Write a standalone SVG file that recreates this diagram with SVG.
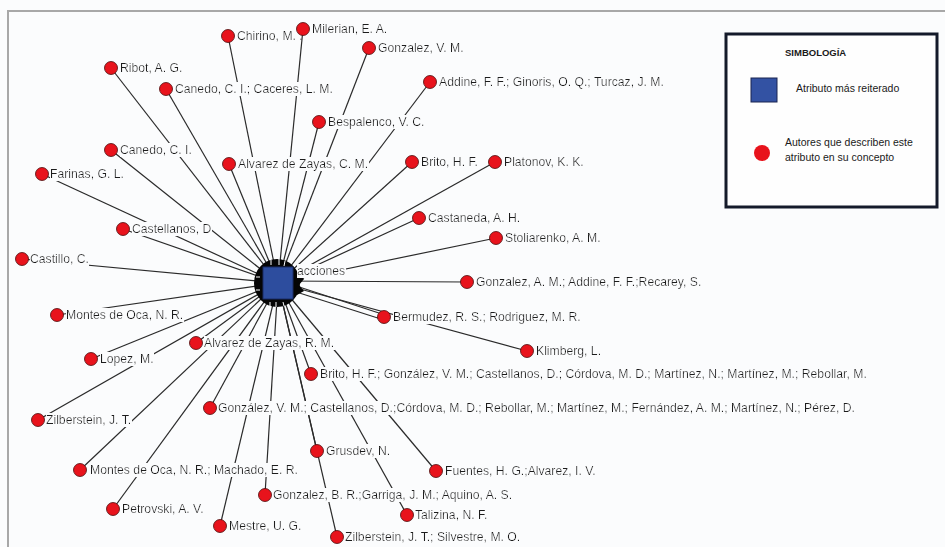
<svg xmlns="http://www.w3.org/2000/svg" width="945" height="547" viewBox="0 0 945 547">
<defs>
<filter id="lblbg" x="0" y="0" width="1" height="1">
<feFlood flood-color="#fbfcfd"/>
<feComposite in="SourceGraphic"/>
</filter>
<style>
.bg{fill:#fbfcfd}
.frame{fill:none;stroke:#a8a8a8;stroke-width:2}
.edge{stroke:#2a2a2a;stroke-width:1.2;fill:none}
.dot{fill:#e8131c;stroke:#4a0a0a;stroke-width:0.8}
.lbl{font-family:"Liberation Sans",Arial,sans-serif;font-size:12.2px;fill:#1c1c1c;filter:url(#lblbg)}
.hub{fill:#2d4d9e;stroke:#1a2d66;stroke-width:1}
.leg{font-family:"Liberation Sans",Arial,sans-serif;font-size:10.5px;fill:#1a1a1a}
.legt{font-family:"Liberation Sans",Arial,sans-serif;font-size:9.5px;font-weight:bold;fill:#1a1a1a}
</style>
</defs>
<rect class="bg" x="0" y="0" width="945" height="547"/>
<path class="frame" d="M945 11 H8 V547"/>

<g id="connectors">
<line class="edge" x1="228" y1="36" x2="278" y2="283"/>
<line class="edge" x1="369" y1="48" x2="278" y2="283"/>
<line class="edge" x1="430" y1="82" x2="278" y2="283"/>
<line class="edge" x1="111" y1="68" x2="278" y2="283"/>
<line class="edge" x1="166" y1="89" x2="278" y2="283"/>
<line class="edge" x1="319" y1="122" x2="278" y2="283"/>
<line class="edge" x1="111" y1="150" x2="278" y2="283"/>
<line class="edge" x1="229" y1="164" x2="278" y2="283"/>
<line class="edge" x1="412" y1="162" x2="278" y2="283"/>
<line class="edge" x1="495" y1="162" x2="278" y2="283"/>
<line class="edge" x1="42" y1="174" x2="278" y2="283"/>
<line class="edge" x1="419" y1="218" x2="278" y2="283"/>
<line class="edge" x1="123" y1="229" x2="278" y2="283"/>
<line class="edge" x1="496" y1="238" x2="278" y2="283"/>
<line class="edge" x1="22" y1="259" x2="278" y2="283"/>
<line class="edge" x1="467" y1="282" x2="278" y2="281"/>
<line class="edge" x1="57" y1="315" x2="278" y2="283"/>
<line class="edge" x1="382" y1="314" x2="290" y2="284"/>
<line class="edge" x1="384" y1="320" x2="290" y2="290"/>
<line class="edge" x1="196" y1="343" x2="278" y2="283"/>
<line class="edge" x1="527" y1="351" x2="278" y2="283"/>
<line class="edge" x1="91" y1="359" x2="278" y2="283"/>
<line class="edge" x1="311" y1="374" x2="278" y2="283"/>
<line class="edge" x1="210" y1="408" x2="278" y2="283"/>
<line class="edge" x1="38" y1="420" x2="278" y2="283"/>
<line class="edge" x1="317" y1="451" x2="278" y2="283"/>
<line class="edge" x1="80" y1="470" x2="278" y2="283"/>
<line class="edge" x1="436" y1="471" x2="278" y2="283"/>
<line class="edge" x1="265" y1="495" x2="278" y2="283"/>
<line class="edge" x1="113" y1="509" x2="278" y2="283"/>
<line class="edge" x1="407" y1="515" x2="278" y2="283"/>
<line class="edge" x1="220" y1="526" x2="278" y2="283"/>
<line class="edge" x1="337" y1="537" x2="278" y2="283"/>
</g>

<g id="n-chirino"><circle class="dot" cx="228" cy="36" r="6.5"/><text class="lbl" x="237" y="40">Chirino, M. .</text></g>
<g id="n-milerian"><line class="edge" x1="303" y1="29" x2="278" y2="283"/><circle class="dot" cx="303" cy="29" r="6.5"/><text class="lbl" x="312" y="33">Milerian, E. A.</text></g>
<g id="n-gonzalez-vm"><circle class="dot" cx="369" cy="48" r="6.5"/><text class="lbl" x="378" y="52">Gonzalez, V. M.</text></g>
<g id="n-addine"><circle class="dot" cx="430" cy="82" r="6.5"/><text class="lbl" x="439" y="86">Addine, F. F.; Ginoris, O. Q.; Turcaz, J. M.</text></g>
<g id="n-ribot"><circle class="dot" cx="111" cy="68" r="6.5"/><text class="lbl" x="120" y="72">Ribot, A. G.</text></g>
<g id="n-canedo-caceres"><circle class="dot" cx="166" cy="89" r="6.5"/><text class="lbl" x="175" y="93">Canedo, C. I.; Caceres, L. M.</text></g>
<g id="n-bespalenco"><circle class="dot" cx="319" cy="122" r="6.5"/><text class="lbl" x="328" y="126">Bespalenco, V. C.</text></g>
<g id="n-canedo"><circle class="dot" cx="111" cy="150" r="6.5"/><text class="lbl" x="120" y="154">Canedo, C. I.</text></g>
<g id="n-alvarez-cm"><circle class="dot" cx="229" cy="164" r="6.5"/><text class="lbl" x="238" y="168">Alvarez de Zayas, C. M.</text></g>
<g id="n-brito"><circle class="dot" cx="412" cy="162" r="6.5"/><text class="lbl" x="421" y="166">Brito, H. F.</text></g>
<g id="n-platonov"><circle class="dot" cx="495" cy="162" r="6.5"/><text class="lbl" x="504" y="166">Platonov, K. K.</text></g>
<g id="n-farinas"><circle class="dot" cx="42" cy="174" r="6.5"/><text class="lbl" x="50" y="178">Farinas, G. L.</text></g>
<g id="n-castaneda"><circle class="dot" cx="419" cy="218" r="6.5"/><text class="lbl" x="428" y="222">Castaneda, A. H.</text></g>
<g id="n-castellanos"><circle class="dot" cx="123" cy="229" r="6.5"/><text class="lbl" x="132" y="233">Castellanos, D</text></g>
<g id="n-stoliarenko"><circle class="dot" cx="496" cy="238" r="6.5"/><text class="lbl" x="505" y="242">Stoliarenko, A. M.</text></g>
<g id="n-castillo"><circle class="dot" cx="22" cy="259" r="6.5"/><text class="lbl" x="30" y="263">Castillo, C.</text></g>
<g id="n-gonzalez-am"><circle class="dot" cx="467" cy="282" r="6.5"/><text class="lbl" x="476" y="286">Gonzalez, A. M.; Addine, F. F.;Recarey, S.</text></g>
<g id="n-montes"><circle class="dot" cx="57" cy="315" r="6.5"/><text class="lbl" x="66" y="319">Montes de Oca, N. R.</text></g>
<g id="n-bermudez"><circle class="dot" cx="384" cy="317" r="6.5"/><text class="lbl" x="393" y="321">Bermudez, R. S.; Rodriguez, M. R.</text></g>
<g id="n-alvarez-rm"><circle class="dot" cx="196" cy="343" r="6.5"/><text class="lbl" x="204" y="347">Alvarez de Zayas, R. M.</text></g>
<g id="n-klimberg"><circle class="dot" cx="527" cy="351" r="6.5"/><text class="lbl" x="536" y="355">Klimberg, L.</text></g>
<g id="n-lopez"><circle class="dot" cx="91" cy="359" r="6.5"/><text class="lbl" x="100" y="363">Lopez, M.</text></g>
<g id="n-brito-multi"><circle class="dot" cx="311" cy="374" r="6.5"/><text class="lbl" x="320" y="378">Brito, H. F.; González, V. M.; Castellanos, D.; Córdova, M. D.; Martínez, N.; Martínez, M.; Rebollar, M.</text></g>
<g id="n-gonzalez-vm-multi"><circle class="dot" cx="210" cy="408" r="6.5"/><text class="lbl" x="218" y="412">González, V. M.; Castellanos, D.;Córdova, M. D.; Rebollar, M.; Martínez, M.; Fernández, A. M.; Martínez, N.; Pérez, D.</text></g>
<g id="n-zilberstein"><circle class="dot" cx="38" cy="420" r="6.5"/><text class="lbl" x="46" y="424">Zilberstein, J. T.</text></g>
<g id="n-grusdev"><circle class="dot" cx="317" cy="451" r="6.5"/><text class="lbl" x="326" y="455">Grusdev, N.</text></g>
<g id="n-montes-machado"><circle class="dot" cx="80" cy="470" r="6.5"/><text class="lbl" x="90" y="474">Montes de Oca, N. R.; Machado, E. R.</text></g>
<g id="n-fuentes"><circle class="dot" cx="436" cy="471" r="6.5"/><text class="lbl" x="445" y="475">Fuentes, H. G.;Alvarez, I. V.</text></g>
<g id="n-gonzalez-br"><circle class="dot" cx="265" cy="495" r="6.5"/><text class="lbl" x="273" y="499">Gonzalez, B. R.;Garriga, J. M.; Aquino, A. S.</text></g>
<g id="n-petrovski"><circle class="dot" cx="113" cy="509" r="6.5"/><text class="lbl" x="122" y="513">Petrovski, A. V.</text></g>
<g id="n-talizina"><circle class="dot" cx="407" cy="515" r="6.5"/><text class="lbl" x="415" y="519">Talizina, N. F.</text></g>
<g id="n-mestre"><circle class="dot" cx="220" cy="526" r="6.5"/><text class="lbl" x="229" y="530">Mestre, U. G.</text></g>
<g id="n-zilberstein-silvestre"><circle class="dot" cx="337" cy="537" r="6.5"/><text class="lbl" x="345" y="541">Zilberstein, J. T.; Silvestre, M. O.</text></g>

<g id="n-hub">
<ellipse cx="277" cy="283" rx="23" ry="24" fill="#050505"/>
<polygon points="292,276 300,273 304,279 299,285 304,291 297,295 292,292" fill="#050505"/>
<g stroke="#fbfcfd" stroke-width="1">
<line x1="271" y1="260" x2="271" y2="265"/>
<line x1="279" y1="259" x2="279" y2="265"/>
<line x1="285" y1="261" x2="284" y2="266"/>
<line x1="270" y1="302" x2="270" y2="306"/>
<line x1="276" y1="302" x2="276" y2="307"/>
<line x1="283" y1="302" x2="284" y2="306"/>
<line x1="256" y1="277" x2="260" y2="277"/>
<line x1="256" y1="290" x2="260" y2="290"/>
</g>
<rect class="hub" x="263" y="267" width="30" height="32"/>
<text class="lbl" x="297" y="275">acciones</text>
</g>

<g id="legend">
<rect x="726" y="34" width="211" height="173" fill="#fefefe" stroke="#141a2a" stroke-width="3"/>
<text class="legt" x="785" y="56">SIMBOLOGÍA</text>
<rect x="751" y="78" width="26" height="24" fill="#3352a3" stroke="#1a2550" stroke-width="1"/>
<text class="leg" x="796" y="92">Atributo más reiterado</text>
<circle cx="762" cy="153" r="8" fill="#e8131c"/>
<text class="leg" x="785" y="146">Autores que describen este</text>
<text class="leg" x="785" y="161">atributo en su concepto</text>
</g>
</svg>
